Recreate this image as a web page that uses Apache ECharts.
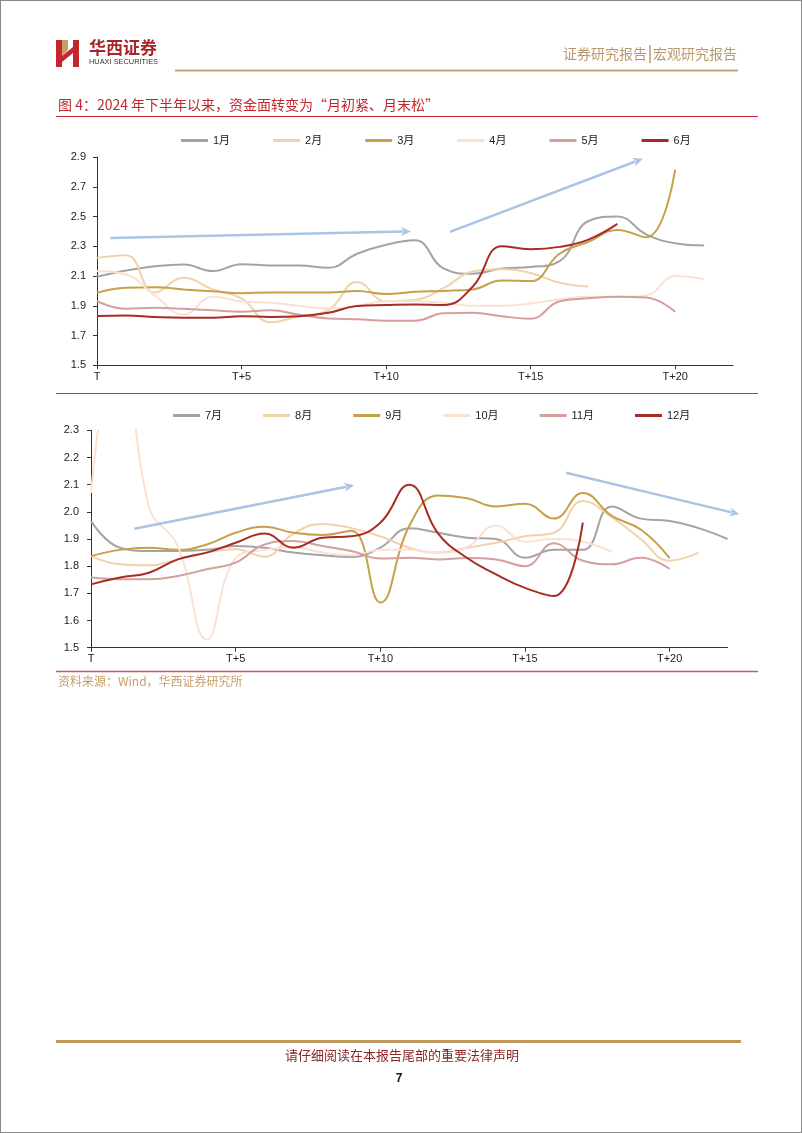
<!DOCTYPE html>
<html>
<head>
<meta charset="utf-8">
<script src="https://cdn.jsdelivr.net/npm/echarts@6/dist/echarts.min.js"></script>
<style>
html,body{margin:0;padding:0;background:#fff;}
#page{width:802px;height:1133px;box-sizing:border-box;border:1px solid #8a8a8a;}
</style>
</head>
<body>
<div id="page"></div>
<script>
// ---- data ----
const xTickValues = [0, 5, 10, 15, 20];
const xTickLabels = ['T', 'T+5', 'T+10', 'T+15', 'T+20'];
const topYTicks = [1.5, 1.7, 1.9, 2.1, 2.3, 2.5, 2.7, 2.9];
const bottomYTicks = [1.5, 1.6, 1.7, 1.8, 1.9, 2.0, 2.1, 2.2, 2.3];

const topNames = ['1月', '2月', '3月', '4月', '5月', '6月'];
const bottomNames = ['7月', '8月', '9月', '10月', '11月', '12月'];

const m1 = [2.095, 2.137, 2.166, 2.178, 2.133, 2.18, 2.17, 2.17, 2.155, 2.25, 2.31, 2.34, 2.15, 2.115, 2.15, 2.16, 2.2, 2.47, 2.5, 2.38, 2.32, 2.305];
const m2 = [2.222, 2.24, 1.99, 2.088, 2.01, 1.95, 1.79, 1.83, 1.87, 2.06, 1.93, 1.94, 2.02, 2.13, 2.145, 2.12, 2.055, 2.03];
const m3 = [1.987, 2.021, 2.025, 2.01, 1.997, 1.985, 1.99, 1.99, 1.99, 2.0, 1.98, 1.994, 2.0, 2.01, 2.07, 2.066, 2.25, 2.33, 2.41, 2.36, 2.815];
const m4 = [2.133, 2.11, 1.97, 1.84, 1.96, 1.93, 1.92, 1.9, 1.88, 1.9, 1.93, 1.93, 1.92, 1.9, 1.9, 1.916, 1.943, 1.96, 1.96, 1.97, 2.1, 2.08];
const m5 = [1.931, 1.88, 1.886, 1.88, 1.87, 1.86, 1.87, 1.84, 1.815, 1.81, 1.8, 1.8, 1.85, 1.853, 1.83, 1.813, 1.93, 1.95, 1.96, 1.955, 1.86];
const m6 = [1.831, 1.835, 1.825, 1.82, 1.82, 1.83, 1.825, 1.83, 1.853, 1.898, 1.905, 1.909, 1.905, 2.03, 2.3, 2.28, 2.296, 2.345, 2.45];

const m7 = [1.966, 1.868, 1.856, 1.856, 1.86, 1.874, 1.868, 1.85, 1.84, 1.834, 1.868, 1.94, 1.923, 1.905, 1.9, 1.831, 1.86, 1.86, 2.02, 1.975, 1.966, 1.94, 1.9];
const m8 = [1.837, 1.807, 1.803, 1.825, 1.85, 1.862, 1.835, 1.92, 1.955, 1.94, 1.91, 1.868, 1.85, 1.868, 1.886, 1.91, 1.923, 2.04, 1.98, 1.9, 1.82, 1.85];
const m9 = [1.837, 1.86, 1.868, 1.86, 1.88, 1.923, 1.945, 1.923, 1.915, 1.93, 1.666, 1.948, 2.06, 2.05, 2.02, 2.03, 1.975, 2.069, 1.985, 1.935, 1.83];
const m10 = [2.07, 2.7, 2.02, 1.874, 1.53, 1.83, 1.86, 1.87, 1.85, 1.84, 1.86, 1.86, 1.85, 1.87, 1.95, 1.89, 1.9, 1.89, 1.853];
const m11 = [1.758, 1.752, 1.752, 1.764, 1.789, 1.813, 1.88, 1.893, 1.874, 1.856, 1.828, 1.831, 1.825, 1.83, 1.825, 1.8, 1.884, 1.82, 1.807, 1.831, 1.79];
const m12 = [1.733, 1.758, 1.776, 1.825, 1.85, 1.886, 1.92, 1.868, 1.905, 1.91, 1.96, 2.1, 1.92, 1.83, 1.77, 1.72, 1.69, 1.96];

const topSeriesValues = [m1, m2, m3, m4, m5, m6];
const bottomSeriesValues = [m7, m8, m9, m10, m11, m12];

// annotation arrows (data coordinates)
const topArrows = [[[0.46, 2.356], [10.86, 2.40]], [[12.21, 2.397], [18.88, 2.889]]];
const bottomArrows = [[[1.50, 1.938], [9.10, 2.098]], [[16.42, 2.144], [22.41, 1.991]]];

// ---- styles ----
const monthColors = ['#a4a4a4', '#f1d2ab', '#c9a04a', '#fbe1d1', '#d4a09d', '#a82b24'];
const FONT = "'Liberation Sans', 'Noto Sans CJK SC', sans-serif";
const CJK = "'Noto Sans CJK SC', sans-serif";

const chart = echarts.init(document.getElementById('page'), null, {renderer: 'canvas'});

function tickLabel(v) {
  const idx = xTickValues.indexOf(Math.round(v));
  return idx >= 0 ? xTickLabels[idx] : '';
}

function xAxisCfg(gi) {
  return {
    type: 'value', gridIndex: gi, min: 0, max: 22,
    axisLine: {show: true, lineStyle: {color: '#333', width: 1}},
    axisTick: {show: true, customValues: xTickValues, length: 4, lineStyle: {color: '#333'}},
    axisLabel: {customValues: xTickValues, formatter: tickLabel, fontSize: 11, color: '#222', fontFamily: FONT, margin: 6},
    splitLine: {show: false}
  };
}
function yAxisCfg(gi, ticks, margin) {
  return {
    type: 'value', gridIndex: gi, min: ticks[0], max: ticks[ticks.length - 1],
    axisLine: {show: true, lineStyle: {color: '#333', width: 1}},
    axisTick: {show: true, customValues: ticks, length: 4, lineStyle: {color: '#333'}},
    axisLabel: {customValues: ticks, formatter: v => v.toFixed(1), fontSize: 11, color: '#222', fontFamily: FONT, margin: margin},
    splitLine: {show: false}
  };
}

const series = [];
topNames.forEach((n, k) => series.push({
  name: n, type: 'line', xAxisIndex: 0, yAxisIndex: 0, smooth: 0.45, symbol: 'none',
  data: topSeriesValues[k].map((v, i) => [i, v]),
  lineStyle: {width: 2, color: monthColors[k]}, itemStyle: {color: monthColors[k]}
}));
bottomNames.forEach((n, k) => series.push({
  name: n, type: 'line', xAxisIndex: 1, yAxisIndex: 1, smooth: 0.45, symbol: 'none',
  data: bottomSeriesValues[k].map((v, i) => [i, v]),
  lineStyle: {width: 2, color: monthColors[k]}, itemStyle: {color: monthColors[k]}
}));

const legendCommon = {
  icon: 'rect', itemWidth: 27, itemHeight: 3, padding: 0,
  textStyle: {fontSize: 11, color: '#222', fontFamily: FONT},
  selectedMode: false
};

chart.setOption({
  backgroundColor: '#fff',
  animation: false,
  grid: [
    {left: 96, top: 156, width: 636, height: 208.3},
    {left: 90, top: 429.3, width: 636.5, height: 217.4}
  ],
  xAxis: [xAxisCfg(0), xAxisCfg(1)],
  yAxis: [yAxisCfg(0, topYTicks, 11), yAxisCfg(1, bottomYTicks, 12)],
  legend: [
    Object.assign({data: topNames, left: 180, top: 134, itemGap: 43}, legendCommon),
    Object.assign({data: bottomNames, left: 172, top: 409, itemGap: 41}, legendCommon)
  ],
  series: series
});

// ---- page graphics ----
const g = [];
// logo
g.push({type: 'rect', shape: {x: 55, y: 39, width: 6, height: 27}, style: {fill: '#c4262e'}});
g.push({type: 'polygon', shape: {points: [[61, 39], [67, 39], [67, 49], [61, 55]]}, style: {fill: '#c9a063'}});
g.push({type: 'rect', shape: {x: 72, y: 39, width: 6, height: 27}, style: {fill: '#c4262e'}});
g.push({type: 'polygon', shape: {points: [[61, 55], [72, 46], [72, 52], [61, 61]]}, style: {fill: '#c4262e'}});
g.push({type: 'text', style: {text: '华西证券', x: 88, y: 47, fill: '#a8262b', font: "bold 17px " + CJK, verticalAlign: 'middle'}});
g.push({type: 'text', style: {text: 'HUAXI SECURITIES', x: 88, y: 61, fill: '#333', font: "7.4px " + FONT, verticalAlign: 'middle'}});
// header right
g.push({type: 'text', style: {text: '证券研究报告', x: 646, y: 53, fill: '#b89a6c', font: "14px " + CJK, align: 'right', verticalAlign: 'middle'}});
g.push({type: 'line', shape: {x1: 649, y1: 44, x2: 649, y2: 62}, style: {stroke: '#b89a6c', lineWidth: 1.5}});
g.push({type: 'text', style: {text: '宏观研究报告', x: 652, y: 53, fill: '#b89a6c', font: "14px " + CJK, align: 'left', verticalAlign: 'middle'}});
g.push({type: 'line', shape: {x1: 174, y1: 69.5, x2: 737, y2: 69.5}, style: {stroke: '#c6a574', lineWidth: 2}});
// title
g.push({type: 'text', style: {text: '图 4：2024 年下半年以来，资金面转变为“月初紧、月末松”', x: 57, y: 104, fill: '#c0282d', font: "14px " + CJK, verticalAlign: 'middle'}});
g.push({type: 'line', shape: {x1: 55, y1: 115.5, x2: 757, y2: 115.5}, style: {stroke: '#c0282d', lineWidth: 1}});
g.push({type: 'line', shape: {x1: 55, y1: 392.5, x2: 757, y2: 392.5}, style: {stroke: '#b8424a', lineWidth: 1}});
g.push({type: 'line', shape: {x1: 55, y1: 670.5, x2: 757, y2: 670.5}, style: {stroke: '#d0595e', lineWidth: 1.5}});
// source
g.push({type: 'text', style: {text: '资料来源：Wind，华西证券研究所', x: 57, y: 680, fill: '#c6a06a', font: "12px " + CJK, verticalAlign: 'middle'}});
// footer
g.push({type: 'line', shape: {x1: 55, y1: 1040.5, x2: 740, y2: 1040.5}, style: {stroke: '#c09a5c', lineWidth: 3}});
g.push({type: 'text', style: {text: '请仔细阅读在本报告尾部的重要法律声明', x: 401, y: 1054, fill: '#8c2626', font: "13px " + CJK, align: 'center', verticalAlign: 'middle'}});
g.push({type: 'text', style: {text: '7', x: 398, y: 1078, fill: '#111', font: "bold 12px " + FONT, align: 'center', verticalAlign: 'middle'}});

// arrows via axis scales
function addArrow(gi, a) {
  const p1 = chart.convertToPixel({gridIndex: gi}, a[0]);
  const p2 = chart.convertToPixel({gridIndex: gi}, a[1]);
  const dx = p2[0] - p1[0], dy = p2[1] - p1[1];
  const len = Math.sqrt(dx * dx + dy * dy);
  const ux = dx / len, uy = dy / len, nx = -uy, ny = ux;
  const L = 10, W = 4.5;
  const bx = p2[0] - ux * L, by = p2[1] - uy * L;
  g.push({type: 'line', z: 50, shape: {x1: p1[0], y1: p1[1], x2: bx + ux * 2, y2: by + uy * 2}, style: {stroke: '#a9c4e4', lineWidth: 2.5}});
  g.push({type: 'polygon', z: 50, shape: {points: [[p2[0], p2[1]], [bx + nx * W, by + ny * W], [bx + ux * 3, by + uy * 3], [bx - nx * W, by - ny * W]]}, style: {fill: '#a9c4e4'}});
}
topArrows.forEach(a => addArrow(0, a));
bottomArrows.forEach(a => addArrow(1, a));

chart.setOption({graphic: g});
</script>
</body>
</html>
